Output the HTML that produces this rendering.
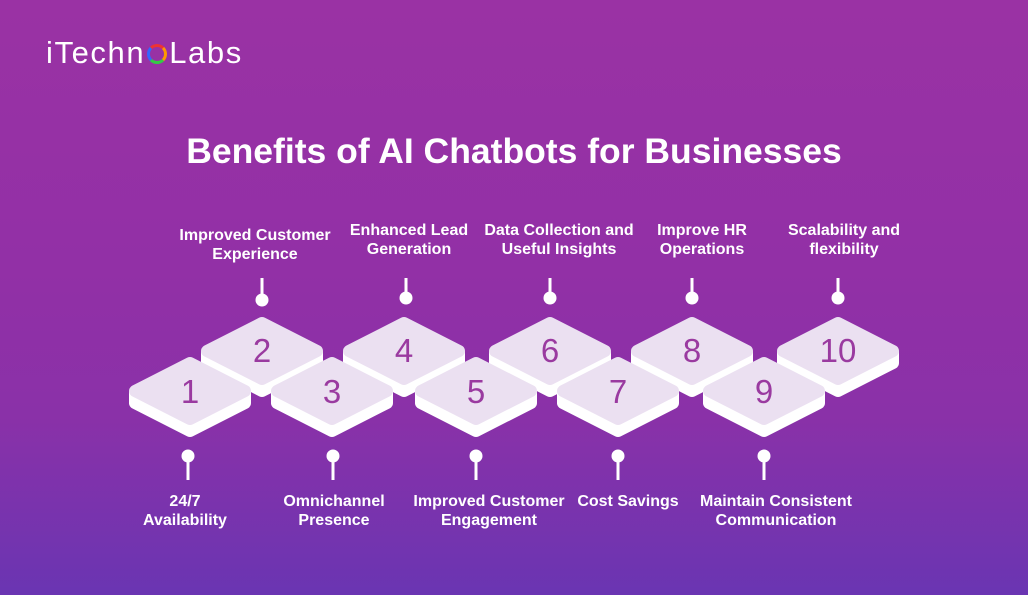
<!DOCTYPE html>
<html><head><meta charset="utf-8"><style>
body{margin:0}
#c{width:1028px;height:595px;position:relative;overflow:hidden;background:linear-gradient(180deg,#9a32a4 0%,#9230a6 45%,#8a31a8 70%,#6a35b2 100%);font-family:"Liberation Sans",sans-serif;color:#fff}
.t{position:absolute;font-weight:bold;text-align:center;font-size:16px;line-height:19px;width:220px;margin-left:-110px}
</style></head><body><div id="c">
<div style="position:absolute;left:46px;top:35px;font-size:31px;letter-spacing:1.6px">iTechn<span style="display:inline-block;width:20px;height:20px;border-radius:50%;border:3px solid;border-color:#e33 #f90 #3c4 #36f;box-sizing:border-box;vertical-align:-1px;margin:0 2px"></span>Labs</div>
<div style="position:absolute;left:0;width:1028px;top:131px;text-align:center;font-size:35.5px;font-weight:bold">Benefits of AI Chatbots for Businesses</div>
<svg width="1028" height="595" style="position:absolute;left:0;top:0">
<defs><g id="tile"><polygon points="-55,0 0,-28 55,0 0,28" transform="translate(0,12)" fill="#fff" stroke="#fff" stroke-width="12" stroke-linejoin="round"/><rect x="-61" y="0" width="122" height="12" fill="#fff"/><polygon points="-55,0 0,-28 55,0 0,28" fill="#ebe0f1" stroke="#ebe0f1" stroke-width="12" stroke-linejoin="round"/></g></defs>
<g stroke="#fff" stroke-width="3" fill="#fff">
<line x1="262" y1="278" x2="262" y2="300"/><circle cx="262" cy="300" r="5"/>
<line x1="406" y1="278" x2="406" y2="298"/><circle cx="406" cy="298" r="5"/>
<line x1="550" y1="278" x2="550" y2="298"/><circle cx="550" cy="298" r="5"/>
<line x1="692" y1="278" x2="692" y2="298"/><circle cx="692" cy="298" r="5"/>
<line x1="838" y1="278" x2="838" y2="298"/><circle cx="838" cy="298" r="5"/>
<line x1="188" y1="456" x2="188" y2="480"/><circle cx="188" cy="456" r="5"/>
<line x1="333" y1="456" x2="333" y2="480"/><circle cx="333" cy="456" r="5"/>
<line x1="476" y1="456" x2="476" y2="480"/><circle cx="476" cy="456" r="5"/>
<line x1="618" y1="456" x2="618" y2="480"/><circle cx="618" cy="456" r="5"/>
<line x1="764" y1="456" x2="764" y2="480"/><circle cx="764" cy="456" r="5"/>
</g>
<use href="#tile" x="262" y="351"/><use href="#tile" x="404" y="351"/><use href="#tile" x="550" y="351"/><use href="#tile" x="692" y="351"/><use href="#tile" x="838" y="351"/>
<use href="#tile" x="190" y="391"/><use href="#tile" x="332" y="391"/><use href="#tile" x="476" y="391"/><use href="#tile" x="618" y="391"/><use href="#tile" x="764" y="391"/>
<g font-family="Liberation Sans,sans-serif" font-size="33" fill="#9a3aa0" text-anchor="middle">
<text x="262" y="362">2</text><text x="404" y="362">4</text><text x="550" y="362">6</text><text x="692" y="362">8</text><text x="838" y="362">10</text>
<text x="190" y="403">1</text><text x="332" y="403">3</text><text x="476" y="403">5</text><text x="618" y="403">7</text><text x="764" y="403">9</text>
</g></svg>
<div class="t" style="left:255px;top:226px">Improved Customer<br>Experience</div>
<div class="t" style="left:409px;top:221px">Enhanced Lead<br>Generation</div>
<div class="t" style="left:559px;top:221px">Data Collection and<br>Useful Insights</div>
<div class="t" style="left:702px;top:221px">Improve HR<br>Operations</div>
<div class="t" style="left:844px;top:221px">Scalability and<br>flexibility</div>
<div class="t" style="left:185px;top:492px">24/7<br>Availability</div>
<div class="t" style="left:334px;top:492px">Omnichannel<br>Presence</div>
<div class="t" style="left:489px;top:492px">Improved Customer<br>Engagement</div>
<div class="t" style="left:628px;top:492px">Cost Savings</div>
<div class="t" style="left:776px;top:492px">Maintain Consistent<br>Communication</div>
</div></body></html>
